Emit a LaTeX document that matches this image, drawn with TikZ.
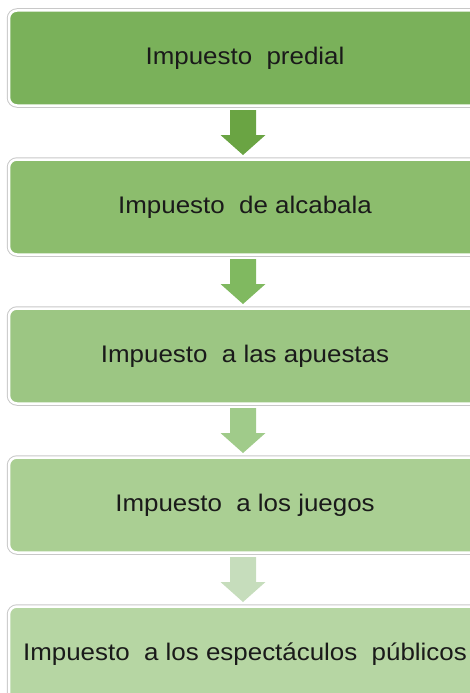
\documentclass[tikz,border=0pt]{standalone}
\usepackage{fontspec}
\setmainfont{Liberation Sans}
\newfontfamily\boxfont[FakeStretch=1.08]{Liberation Sans}
\usetikzlibrary{calc}
\definecolor{cA}{HTML}{7AB15A}
\definecolor{cB}{HTML}{8CBD6D}
\definecolor{cC}{HTML}{9CC683}
\definecolor{cD}{HTML}{AACF93}
\definecolor{cE}{HTML}{B6D6A3}
\definecolor{aA}{HTML}{6AA443}
\definecolor{aB}{HTML}{80B960}
\definecolor{aC}{HTML}{A0CB8A}
\definecolor{aD}{HTML}{C6DDBC}
\definecolor{edge}{HTML}{C8C8C8}
\definecolor{txt}{HTML}{1A1A1A}
\begin{document}
\begin{tikzpicture}[x=1pt,y=1pt,
  stepbox/.style={rounded corners=8pt, draw=white, line width=2.5pt,
    preaction={draw=edge, line width=4.5pt},
    minimum width=472pt, minimum height=95pt, inner sep=0pt,
    text=txt, font=\boxfont\fontsize{24}{28}\selectfont},
  blockarrow/.style={fill=#1, draw=none}
]
\useasboundingbox (0,0) rectangle (469,-693);
\node[stepbox, fill=cA] (b1) at (245,-58)  {Impuesto\ \ predial};
\node[stepbox, fill=cB] (b2) at (245,-207) {Impuesto\ \ de alcabala};
\node[stepbox, fill=cC] (b3) at (245,-356) {Impuesto\ \ a las apuestas};
\node[stepbox, fill=cD] (b4) at (245,-505) {Impuesto\ \ a los juegos};
\node[stepbox, fill=cE] (b5) at (245,-654) {Impuesto\ \ a los espectáculos\ \ públicos};
\foreach \u/\v/\c [count=\i] in {b1/b2/aA, b2/b3/aB, b3/b4/aC, b4/b5/aD}{
  \coordinate (m\i) at ($(\u.south)!0.5!(\v.north)+(-2,0)$);
  \fill[\c] ($(m\i)+(-13,22.5)$) -- ($(m\i)+(13,22.5)$) -- ($(m\i)+(13,-2.5)$)
    -- ($(m\i)+(22.5,-2.5)$) -- ($(m\i)+(0,-22.5)$) -- ($(m\i)+(-22.5,-2.5)$)
    -- ($(m\i)+(-13,-2.5)$) -- cycle;
}
\end{tikzpicture}
\end{document}
